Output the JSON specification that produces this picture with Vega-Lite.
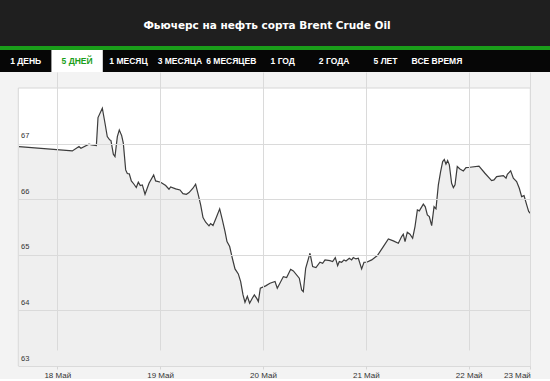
{
  "$schema": "https://vega.github.io/schema/vega-lite/v6.json",
  "background": "#f3f3f3",
  "padding": 0,
  "spacing": 0,
  "bounds": "flush",
  "config": {"view": {"stroke": null}},
  "vconcat": [
    {
      "width": 550,
      "height": 46,
      "view": {"fill": "#1f1f1f"},
      "data": {"values": [{"title": "Фьючерс на нефть сорта Brent Crude Oil"}]},
      "mark": {"type": "text", "font": "DejaVu Sans", "fontWeight": "bold", "fontSize": 10.5, "color": "#ffffff", "dx": -8, "dy": 3, "baseline": "middle"},
      "encoding": {
        "x": {"field": "title", "type": "nominal", "axis": null},
        "text": {"field": "title"}
      }
    },
    {
      "width": 550,
      "height": 4,
      "view": {"fill": "#1a9e1a"},
      "data": {"values": [{}]},
      "mark": {"type": "text"},
      "encoding": {"text": {"value": ""}}
    },
    {
      "width": 550,
      "height": 22,
      "view": {"fill": "#060606"},
      "data": {"values": [
        {"tab": "1 ДЕНЬ", "active": false},
        {"tab": "5 ДНЕЙ", "active": true},
        {"tab": "1 МЕСЯЦ", "active": false},
        {"tab": "3 МЕСЯЦА", "active": false},
        {"tab": "6 МЕСЯЦЕВ", "active": false},
        {"tab": "1 ГОД", "active": false},
        {"tab": "2 ГОДА", "active": false},
        {"tab": "5 ЛЕТ", "active": false},
        {"tab": "ВСЕ ВРЕМЯ", "active": false}
      ]},
      "encoding": {
        "x": {"field": "tab", "type": "nominal", "axis": null,
              "sort": ["1 ДЕНЬ", "5 ДНЕЙ", "1 МЕСЯЦ", "3 МЕСЯЦА", "6 МЕСЯЦЕВ", "1 ГОД", "2 ГОДА", "5 ЛЕТ", "ВСЕ ВРЕМЯ"],
              "scale": {"type": "band", "paddingInner": 0, "paddingOuter": 0.85, "align": 0}}
      },
      "layer": [
        {"transform": [{"filter": "datum.active"}], "mark": {"type": "rect", "color": "#ffffff"}},
        {"mark": {"type": "text", "font": "Liberation Sans", "fontWeight": "bold", "fontSize": 8.5, "baseline": "middle"},
         "encoding": {
           "text": {"field": "tab"},
           "color": {"condition": {"test": "datum.active", "value": "#1a9e1a"}, "value": "#ffffff"}
         }}
      ]
    },
    {
      "width": 550,
      "height": 294,
      "data": {"values": [
        {"t": 17.628, "v": 66.947}, {"t": 18.146, "v": 66.869}, {"t": 18.211, "v": 66.947}, {"t": 18.230, "v": 66.917},
        {"t": 18.308, "v": 66.989}, {"t": 18.334, "v": 66.977}, {"t": 18.380, "v": 66.965}, {"t": 18.396, "v": 67.468},
        {"t": 18.438, "v": 67.636}, {"t": 18.464, "v": 67.366}, {"t": 18.486, "v": 67.126}, {"t": 18.509, "v": 67.067},
        {"t": 18.522, "v": 67.055}, {"t": 18.545, "v": 66.809}, {"t": 18.561, "v": 66.767}, {"t": 18.584, "v": 67.126},
        {"t": 18.603, "v": 67.246}, {"t": 18.626, "v": 67.144}, {"t": 18.642, "v": 67.007}, {"t": 18.665, "v": 66.527},
        {"t": 18.681, "v": 66.461}, {"t": 18.700, "v": 66.455}, {"t": 18.720, "v": 66.329}, {"t": 18.746, "v": 66.269},
        {"t": 18.768, "v": 66.209}, {"t": 18.788, "v": 66.305}, {"t": 18.807, "v": 66.245}, {"t": 18.827, "v": 66.257},
        {"t": 18.853, "v": 66.089}, {"t": 18.892, "v": 66.287}, {"t": 18.937, "v": 66.437}, {"t": 18.956, "v": 66.329},
        {"t": 19.005, "v": 66.305}, {"t": 19.054, "v": 66.245}, {"t": 19.086, "v": 66.179}, {"t": 19.102, "v": 66.221},
        {"t": 19.151, "v": 66.185}, {"t": 19.193, "v": 66.167}, {"t": 19.222, "v": 66.101}, {"t": 19.255, "v": 66.089},
        {"t": 19.281, "v": 66.119}, {"t": 19.319, "v": 66.197}, {"t": 19.345, "v": 66.269}, {"t": 19.371, "v": 66.077},
        {"t": 19.394, "v": 65.897}, {"t": 19.417, "v": 65.670}, {"t": 19.443, "v": 65.586}, {"t": 19.475, "v": 65.520},
        {"t": 19.491, "v": 65.562}, {"t": 19.514, "v": 65.526}, {"t": 19.546, "v": 65.670}, {"t": 19.579, "v": 65.826},
        {"t": 19.605, "v": 65.628}, {"t": 19.631, "v": 65.418}, {"t": 19.650, "v": 65.238}, {"t": 19.676, "v": 65.148},
        {"t": 19.702, "v": 64.938}, {"t": 19.728, "v": 64.746}, {"t": 19.760, "v": 64.656}, {"t": 19.783, "v": 64.519},
        {"t": 19.806, "v": 64.279}, {"t": 19.825, "v": 64.147}, {"t": 19.848, "v": 64.255}, {"t": 19.870, "v": 64.129},
        {"t": 19.896, "v": 64.219}, {"t": 19.916, "v": 64.279}, {"t": 19.942, "v": 64.207}, {"t": 19.955, "v": 64.159},
        {"t": 19.974, "v": 64.399}, {"t": 20.026, "v": 64.441}, {"t": 20.068, "v": 64.489}, {"t": 20.117, "v": 64.519},
        {"t": 20.139, "v": 64.399}, {"t": 20.198, "v": 64.608}, {"t": 20.230, "v": 64.590}, {"t": 20.269, "v": 64.740},
        {"t": 20.295, "v": 64.710}, {"t": 20.353, "v": 64.579}, {"t": 20.376, "v": 64.369}, {"t": 20.392, "v": 64.339},
        {"t": 20.415, "v": 64.758}, {"t": 20.457, "v": 65.028}, {"t": 20.483, "v": 64.788}, {"t": 20.515, "v": 64.770},
        {"t": 20.554, "v": 64.866}, {"t": 20.580, "v": 64.848}, {"t": 20.603, "v": 64.908}, {"t": 20.651, "v": 64.896},
        {"t": 20.677, "v": 64.878}, {"t": 20.703, "v": 64.950}, {"t": 20.726, "v": 64.806}, {"t": 20.742, "v": 64.878},
        {"t": 20.765, "v": 64.866}, {"t": 20.788, "v": 64.908}, {"t": 20.807, "v": 64.890}, {"t": 20.839, "v": 64.938},
        {"t": 20.862, "v": 64.908}, {"t": 20.878, "v": 64.950}, {"t": 20.904, "v": 64.926}, {"t": 20.927, "v": 64.938},
        {"t": 20.959, "v": 64.746}, {"t": 20.982, "v": 64.866}, {"t": 21.008, "v": 64.866}, {"t": 21.057, "v": 64.908},
        {"t": 21.112, "v": 64.986}, {"t": 21.170, "v": 65.148}, {"t": 21.219, "v": 65.286}, {"t": 21.267, "v": 65.250},
        {"t": 21.316, "v": 65.208}, {"t": 21.348, "v": 65.328}, {"t": 21.364, "v": 65.370}, {"t": 21.381, "v": 65.238},
        {"t": 21.403, "v": 65.406}, {"t": 21.429, "v": 65.370}, {"t": 21.455, "v": 65.298}, {"t": 21.478, "v": 65.508},
        {"t": 21.501, "v": 65.808}, {"t": 21.520, "v": 65.790}, {"t": 21.559, "v": 65.910}, {"t": 21.578, "v": 65.862},
        {"t": 21.598, "v": 65.718}, {"t": 21.617, "v": 65.688}, {"t": 21.640, "v": 65.526}, {"t": 21.663, "v": 65.867},
        {"t": 21.682, "v": 65.826}, {"t": 21.705, "v": 66.257}, {"t": 21.727, "v": 66.497}, {"t": 21.747, "v": 66.677},
        {"t": 21.763, "v": 66.713}, {"t": 21.779, "v": 66.629}, {"t": 21.795, "v": 66.695}, {"t": 21.812, "v": 66.617},
        {"t": 21.834, "v": 66.287}, {"t": 21.851, "v": 66.209}, {"t": 21.867, "v": 66.257}, {"t": 21.889, "v": 66.587},
        {"t": 21.915, "v": 66.545}, {"t": 21.948, "v": 66.509}, {"t": 21.974, "v": 66.569}, {"t": 22.013, "v": 66.575},
        {"t": 22.100, "v": 66.593}, {"t": 22.158, "v": 66.467}, {"t": 22.223, "v": 66.335}, {"t": 22.246, "v": 66.347},
        {"t": 22.272, "v": 66.407}, {"t": 22.337, "v": 66.425}, {"t": 22.363, "v": 66.377}, {"t": 22.376, "v": 66.449},
        {"t": 22.408, "v": 66.509}, {"t": 22.434, "v": 66.377}, {"t": 22.466, "v": 66.317}, {"t": 22.492, "v": 66.197},
        {"t": 22.515, "v": 66.047}, {"t": 22.538, "v": 66.065}, {"t": 22.564, "v": 65.897}, {"t": 22.583, "v": 65.778},
        {"t": 22.599, "v": 65.748}
      ]},
      "layer": [
        {
          "data": {"values": [{}]},
          "mark": {"type": "rect", "fill": "#ffffff", "stroke": "#d6d6d6", "strokeWidth": 1},
          "encoding": {
            "x": {"datum": 17.621, "type": "quantitative"},
            "x2": {"datum": 22.599},
            "y": {"datum": 63, "type": "quantitative"},
            "y2": {"datum": 68}
          }
        },
        {
          "mark": {"type": "area", "color": "#efefef"},
          "encoding": {
            "x": {"field": "t", "type": "quantitative", "title": null,
                  "scale": {"domain": [17.621, 22.599], "range": [18.3, 530.3], "nice": false, "zero": false},
                  "axis": {"values": [18, 19, 20, 21, 22, 22.599],
                           "labelExpr": "datum.value > 22.5 ? '23 Май' : format(datum.value, 'd') + ' Май'",
                           "labelAlign": {"condition": {"test": "datum.value > 22.5", "value": "right"}, "value": "center"},
                           "grid": true, "gridColor": "#dadada", "domain": false,
                           "tickSize": 3, "tickColor": "#d6d6d6",
                           "labelFont": "Liberation Sans", "labelFontSize": 8, "labelColor": "#333333",
                           "labelPadding": 2, "zindex": 1}},
            "y": {"field": "v", "type": "quantitative", "title": null,
                  "scale": {"domain": [63, 68], "range": [294, 16], "nice": false, "zero": false},
                  "axis": {"values": [63, 64, 65, 66, 67], "format": "d", "grid": true, "gridColor": "#dadada",
                           "domain": false, "ticks": false, "labelAlign": "left", "labelBaseline": "alphabetic",
                           "labelPadding": -20.5, "labelOffset": -6,
                           "labelFont": "Liberation Sans", "labelFontSize": 7.5, "labelColor": "#333333", "zindex": 1}},
            "y2": {"datum": 63}
          }
        },
        {
          "mark": {"type": "line", "color": "#3c3c3c", "strokeWidth": 1.2},
          "encoding": {
            "x": {"field": "t", "type": "quantitative"},
            "y": {"field": "v", "type": "quantitative"}
          }
        }
      ]
    }
  ]
}
